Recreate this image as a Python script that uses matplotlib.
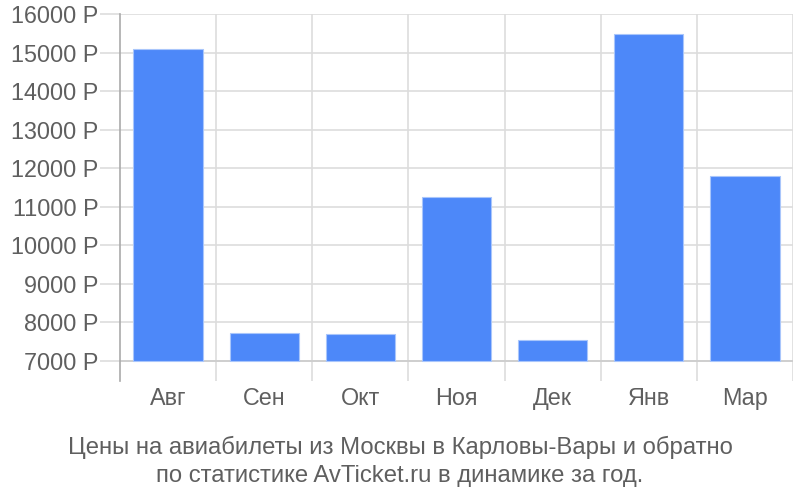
import matplotlib.pyplot as plt
from matplotlib.ticker import FixedLocator

months = ['Авг', 'Сен', 'Окт', 'Ноя', 'Дек', 'Янв', 'Мар']
prices = [15100, 7730, 7690, 11250, 7540, 15480, 11810]
y_ticks = [7000, 8000, 9000, 10000, 11000, 12000, 13000, 14000, 15000, 16000]
base = 7000

plt.rcParams['font.family'] = ['Liberation Sans', 'DejaVu Sans']

fig = plt.figure(figsize=(8, 5), dpi=100)
ax = fig.add_axes([120 / 800, 1 - 381 / 500, 673 / 800, 367 / 500])

x = list(range(len(months)))
ax.bar(x, [p - base for p in prices], bottom=base, width=0.72,
       color='#4d88f9', edgecolor='#a9c6fb', linewidth=0.8, zorder=3)

ax.set_xlim(-0.5, len(months) - 0.5)
ax.set_ylim(6481, 16000)

# сетка
ax.set_yticks(y_ticks)
ax.set_yticklabels([f'{v} Р' for v in y_ticks])
ax.yaxis.grid(True, color='#dddddd', linewidth=1.2, zorder=1)
ax.tick_params(axis='y', length=14.4, width=1.2, color='#dddddd', pad=1,
               labelsize=16.8, labelcolor='#5f5f5f')
ax.axhline(base, color='#cccccc', linewidth=1.2, zorder=2)

ax.set_xticks(x)
ax.set_xticklabels(months)
ax.xaxis.set_minor_locator(FixedLocator([i + 0.5 for i in range(len(months))]))
ax.xaxis.grid(True, which='minor', color='#dddddd', linewidth=1.2, zorder=1)
ax.tick_params(axis='x', which='both', length=0, pad=4.5, labelsize=16.8, labelcolor='#5f5f5f')

for side in ['top', 'right', 'bottom']:
    ax.spines[side].set_visible(False)
ax.spines['left'].set_color('#aaaaaa')
ax.spines['left'].set_linewidth(1.2)

fig.text(0.5, 1 - 447 / 500, 'Цены на авиабилеты из Москвы в Карловы-Вары и обратно',
         ha='center', va='center', fontsize=17.2, color='#5f5f5f')
fig.text(0.5, 1 - 476 / 500, 'по статистике AvTicket.ru в динамике за год.',
         ha='center', va='center', fontsize=17.2, color='#5f5f5f')

fig.savefig('out.png', dpi=100)
